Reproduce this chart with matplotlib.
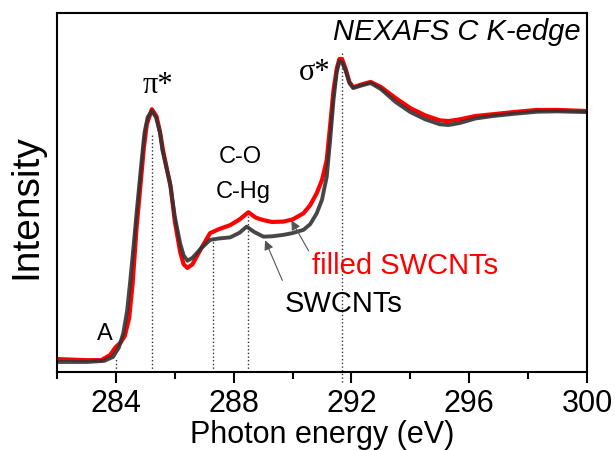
import numpy as np
import matplotlib
matplotlib.use('Agg')
import matplotlib.pyplot as plt
from matplotlib.ticker import MultipleLocator

plt.rcParams['font.family'] = ['Liberation Sans', 'DejaVu Sans']

# photon energy (eV) and normalised intensity
x_swcnt = [282.0, 283.0, 283.6, 283.9, 284.1, 284.25, 284.38, 284.48, 284.6, 284.7,
           284.8, 284.91, 284.97, 285.08, 285.22, 285.36, 285.5, 285.58, 285.7, 285.84,
           286.0, 286.18, 286.3, 286.43, 286.6, 286.9, 287.2, 287.5, 287.88, 288.2,
           288.44, 288.7, 289.01, 289.3, 289.69, 290.0, 290.37, 290.6, 290.82, 291.0,
           291.16, 291.28, 291.39, 291.5, 291.59, 291.68, 291.8, 291.93, 292.06, 292.3,
           292.65, 293.0, 293.5, 294.0, 294.5, 295.0, 295.3, 295.7, 296.2, 296.8,
           297.5, 298.3, 299.0, 300.0]
y_swcnt = [0.028, 0.028, 0.031, 0.042, 0.068, 0.108, 0.170, 0.248, 0.350, 0.440,
           0.526, 0.618, 0.666, 0.710, 0.727, 0.710, 0.666, 0.618, 0.575, 0.526,
           0.433, 0.359, 0.325, 0.310, 0.318, 0.345, 0.368, 0.372, 0.375, 0.388,
           0.405, 0.390, 0.377, 0.378, 0.382, 0.387, 0.396, 0.412, 0.442, 0.480,
           0.544, 0.650, 0.758, 0.835, 0.866, 0.862, 0.840, 0.805, 0.791, 0.797,
           0.805, 0.788, 0.752, 0.724, 0.704, 0.690, 0.688, 0.694, 0.706, 0.713,
           0.719, 0.725, 0.726, 0.724]

x_filled = [282.0, 283.0, 283.5, 283.8, 284.0, 284.15, 284.3, 284.45, 284.57, 284.7,
            284.84, 284.95, 285.05, 285.22, 285.38, 285.5, 285.6, 285.72, 285.86, 286.0,
            286.18, 286.3, 286.43, 286.6, 286.9, 287.2, 287.5, 287.88, 288.2, 288.5,
            288.75, 289.01, 289.3, 289.69, 290.0, 290.37, 290.6, 290.82, 291.0, 291.16,
            291.28, 291.39, 291.5, 291.59, 291.68, 291.8, 291.93, 292.06, 292.3, 292.65,
            293.0, 293.5, 294.0, 294.5, 295.0, 295.3, 295.7, 296.2, 296.8, 297.5,
            298.3, 299.0, 300.0]
y_filled = [0.036, 0.033, 0.033, 0.047, 0.070, 0.081, 0.100, 0.150, 0.248, 0.400,
            0.526, 0.625, 0.690, 0.732, 0.712, 0.668, 0.618, 0.570, 0.515, 0.420,
            0.335, 0.300, 0.290, 0.300, 0.345, 0.387, 0.398, 0.409, 0.425, 0.445,
            0.430, 0.423, 0.418, 0.419, 0.425, 0.442, 0.465, 0.498, 0.535, 0.590,
            0.690, 0.785, 0.845, 0.872, 0.872, 0.845, 0.808, 0.793, 0.800, 0.808,
            0.794, 0.763, 0.735, 0.715, 0.701, 0.699, 0.704, 0.713, 0.718, 0.724,
            0.730, 0.730, 0.727]

# dotted markers of the resonances
peak_x = [284.0, 285.23, 287.3, 288.5, 291.68]
peak_top = [0.039, 0.660, 0.376, 0.443, 0.891]

fig = plt.figure(figsize=(6.15, 4.5), dpi=100)
ax = fig.add_axes([0.0927, 0.1733, 0.8618, 0.7978])

ax.vlines(peak_x[:4], 0, peak_top[:4], colors='#333333', linestyles=':', lw=1.0)
ax.vlines(peak_x[4], -0.028, peak_top[4], colors='#333333', linestyles=':', lw=1.0,
          clip_on=False)

ax.plot(x_filled, y_filled, color='#ff0000', lw=3.0, solid_joinstyle='round')
ax.plot(x_swcnt, y_swcnt, color='#333333', lw=2.8, alpha=0.9, solid_joinstyle='round')

ax.set_xlim(282, 300)
ax.set_ylim(0, 1)
ax.xaxis.set_minor_locator(MultipleLocator(2))
ax.set_xticks([284, 288, 292, 296, 300])
ax.set_yticks([])
ax.tick_params(axis='x', which='major', direction='out', length=8, width=1.5,
               labelsize=22, pad=4)
ax.tick_params(axis='x', which='minor', direction='out', length=5, width=1.5)
for s in ax.spines.values():
    s.set_linewidth(1.5)

ax.set_xlabel('Photon energy (eV)', fontsize=22, labelpad=1)
ax.set_ylabel('Intensity', fontsize=28, va='center')
ax.yaxis.set_label_coords(-0.057, 0.46)

ax.text(0.987, 0.925, 'NEXAFS C K-edge', transform=ax.transAxes, ha='right',
        va='baseline', fontsize=21, style='italic')
ax.text(285.43, 0.777, 'π*', ha='center', va='baseline', fontsize=22,
        family=['Liberation Serif', 'DejaVu Serif'])
ax.text(290.76, 0.813, 'σ*', ha='center', va='baseline', fontsize=22,
        family=['Liberation Serif', 'DejaVu Serif'])
ax.text(288.22, 0.582, 'C-O', ha='center', va='baseline', fontsize=17)
ax.text(288.32, 0.485, 'C-Hg', ha='center', va='baseline', fontsize=17)
ax.text(283.63, 0.089, 'A', ha='center', va='baseline', fontsize=17)

ax.text(290.66, 0.273, 'filled SWCNTs', color='#ff0000', ha='left',
        va='baseline', fontsize=21)
ax.text(289.74, 0.167, 'SWCNTs', color='black', ha='left', va='baseline',
        fontsize=21)
arrow = dict(arrowstyle='-|>', color='#555555', lw=0.8, mutation_scale=14)
ax.annotate('', xy=(289.91, 0.429), xytext=(290.59, 0.331), arrowprops=arrow)
ax.annotate('', xy=(289.03, 0.374), xytext=(289.69, 0.248), arrowprops=arrow)

fig.savefig('out.png', dpi=100)
